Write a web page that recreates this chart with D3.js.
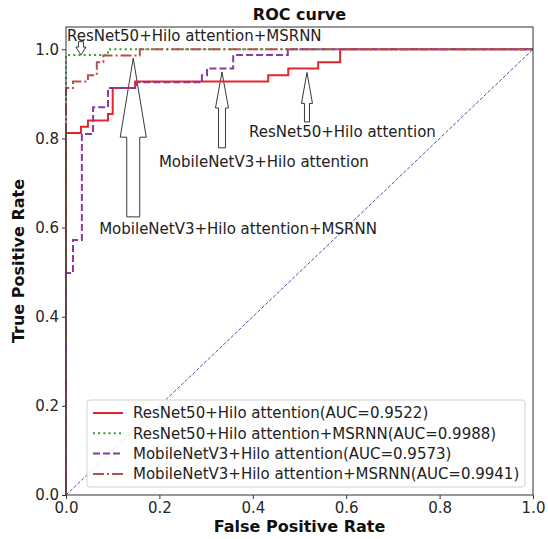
<!DOCTYPE html>
<html><head><meta charset="utf-8">
<script src="https://cdn.jsdelivr.net/npm/d3@7"></script>
<style>
body{margin:0;background:#fff}
text{font-family:"DejaVu Sans",sans-serif}
</style>
</head><body>
<svg id="chart" width="548" height="539"></svg>
<script>
// ---------------- data ----------------
const seriesNames = [
  "ResNet50+Hilo attention",
  "ResNet50+Hilo attention+MSRNN",
  "MobileNetV3+Hilo attention",
  "MobileNetV3+Hilo attention+MSRNN"
];
const aucValues = [0.9522, 0.9988, 0.9573, 0.9941];

const fprResNet = [0, 0, 0.032, 0.032, 0.047, 0.047, 0.09, 0.09, 0.10, 0.10, 0.148, 0.148, 0.433, 0.433, 0.476, 0.476, 0.54, 0.54, 0.587, 0.587, 1];
const tprResNet = [0, 0.812, 0.812, 0.826, 0.826, 0.84, 0.84, 0.855, 0.855, 0.913, 0.913, 0.928, 0.928, 0.942, 0.942, 0.957, 0.957, 0.971, 0.971, 1, 1];

const fprResNetMS = [0, 0, 0.09, 0.09, 1];
const tprResNetMS = [0, 0.987, 0.987, 1, 1];

const fprMobile = [0, 0, 0.015, 0.015, 0.034, 0.034, 0.058, 0.058, 0.09, 0.09, 0.152, 0.152, 0.291, 0.291, 0.302, 0.302, 0.358, 0.358, 0.475, 0.475, 1];
const tprMobile = [0, 0.498, 0.498, 0.572, 0.572, 0.81, 0.81, 0.87, 0.87, 0.913, 0.913, 0.926, 0.926, 0.942, 0.942, 0.957, 0.957, 0.987, 0.987, 1, 1];

const fprMobileMS = [0, 0, 0.015, 0.015, 0.047, 0.047, 0.066, 0.066, 0.08, 0.08, 0.158, 0.158, 1];
const tprMobileMS = [0, 0.913, 0.913, 0.928, 0.928, 0.942, 0.942, 0.971, 0.971, 0.986, 0.986, 1, 1];

const chanceLine = [0, 1];

const xTicks = [0, 0.2, 0.4, 0.6, 0.8, 1.0];
const yTicks = [0, 0.2, 0.4, 0.6, 0.8, 1.0];

const annTexts = [
  "ResNet50+Hilo attention+MSRNN",
  "MobileNetV3+Hilo attention+MSRNN",
  "MobileNetV3+Hilo attention",
  "ResNet50+Hilo attention"
];
// text anchor (left, baseline) in data coords
const annTextX = [0.002, 0.071, 0.199, 0.392];
const annTextY = [1.019, 0.586, 0.735, 0.803];
// arrow tip and tail in data coords
const annTipX  = [0.032, 0.144, 0.334, 0.516];
const annTipY  = [0.987, 0.980, 0.949, 0.948];
const annTailY = [1.017, 0.624, 0.779, 0.837];

// ---------------- style ----------------
const colors = ["#e3262b", "#2ca02c", "#8b3a9e", "#b3514f"];
const dashes = [null, "2,3.2", "7,3", "11,3,2,3"];
const arrowShape = [ // shaft width, head width, head length (px)
  {sw: 5, hw: 10, hl: 8},
  {sw: 13, hw: 26, hl: 79},
  {sw: 7, hw: 13, hl: 36},
  {sw: 5, hw: 11, hl: 31}
];

const svg = d3.select("#chart");
const W = 548, H = 539;
const pLeft = 66, pRight = 533, pTop = 27, pBottom = 495;

const x = d3.scaleLinear().domain([0, 1]).range([pLeft, pRight]);
const y = d3.scaleLinear().domain([0, 1.05]).range([pBottom, pTop]);

svg.append("rect").attr("width", W).attr("height", H).attr("fill", "#fff");

// axes
const gx = svg.append("g").attr("transform", `translate(0,${pBottom})`)
  .call(d3.axisBottom(x).tickValues(xTicks).tickFormat(d3.format(".1f")).tickSize(4).tickPadding(3));
const gy = svg.append("g").attr("transform", `translate(${pLeft},0)`)
  .call(d3.axisLeft(y).tickValues(yTicks).tickFormat(d3.format(".1f")).tickSize(4).tickPadding(3));
[gx, gy].forEach(g => {
  g.select(".domain").remove();
  g.selectAll(".tick line").attr("stroke", "#333");
  g.selectAll(".tick text").attr("fill", "#262626").style("font-size", "15px")
    .style("font-family", "DejaVu Sans, sans-serif");
});

// arrows (drawn beneath curves)
const arrowsG = svg.append("g");
annTexts.forEach((t, i) => {
  const cx = x(annTipX[i]);
  const tipY = y(annTipY[i]);
  const tailY = y(annTailY[i]);
  const s = arrowShape[i];
  const dir = tailY > tipY ? 1 : -1;
  const baseY = tipY + dir * s.hl;
  const pts = [
    [cx, tipY],
    [cx + s.hw / 2, baseY],
    [cx + s.sw / 2, baseY],
    [cx + s.sw / 2, tailY],
    [cx - s.sw / 2, tailY],
    [cx - s.sw / 2, baseY],
    [cx - s.hw / 2, baseY]
  ];
  arrowsG.append("path")
    .attr("d", d3.line()(pts) + "Z")
    .attr("fill", "#fff").attr("stroke", "#222").attr("stroke-width", 0.9)
    .attr("stroke-linejoin", "miter");
});

// chance diagonal
svg.append("path")
  .attr("d", d3.line().x(d => x(d)).y(d => y(d))(chanceLine))
  .attr("fill", "none").attr("stroke", "#3b3ba0").attr("stroke-width", 0.9)
  .attr("stroke-dasharray", "3.5,1.8");

// curves
const seriesFpr = [fprResNet, fprResNetMS, fprMobile, fprMobileMS];
const seriesTpr = [tprResNet, tprResNetMS, tprMobile, tprMobileMS];
const lineGen = d3.line().x(d => x(d[0])).y(d => y(d[1]));
seriesFpr.forEach((f, i) => {
  const pts = f.map((v, j) => [v, seriesTpr[i][j]]);
  const p = svg.append("path")
    .attr("d", lineGen(pts))
    .attr("fill", "none").attr("stroke", colors[i]).attr("stroke-width", 2)
    .attr("stroke-linejoin", "miter");
  if (dashes[i]) p.attr("stroke-dasharray", dashes[i]);
});

// annotation texts
annTexts.forEach((t, i) => {
  svg.append("text")
    .attr("x", x(annTextX[i])).attr("y", y(annTextY[i]))
    .attr("fill", "#222").style("font-size", "15px")
    .text(t);
});

// frame
svg.append("rect").attr("x", pLeft).attr("y", pTop)
  .attr("width", pRight - pLeft).attr("height", pBottom - pTop)
  .attr("fill", "none").attr("stroke", "#333").attr("stroke-width", 1);

// legend
const lg = svg.append("g");
const lgX = 87, lgY = 400, lgW = 438, lgH = 87, rowH = 20.3;
lg.append("rect").attr("x", lgX).attr("y", lgY).attr("width", lgW).attr("height", lgH)
  .attr("rx", 3).attr("fill", "#fff").attr("fill-opacity", 0.85)
  .attr("stroke", "#d0d0d0").attr("stroke-width", 1);
seriesNames.forEach((n, i) => {
  const cy = lgY + 13 + i * rowH;
  const l = lg.append("line").attr("x1", lgX + 6).attr("x2", lgX + 36)
    .attr("y1", cy).attr("y2", cy)
    .attr("stroke", colors[i]).attr("stroke-width", 2);
  if (dashes[i]) l.attr("stroke-dasharray", dashes[i]);
  lg.append("text").attr("x", lgX + 46).attr("y", cy).attr("dy", "0.35em")
    .attr("fill", "#222").style("font-size", "15px")
    .text(`${n}(AUC=${aucValues[i].toFixed(4)})`);
});

// title and axis labels
svg.append("text").attr("x", (pLeft + pRight) / 2).attr("y", 20)
  .attr("text-anchor", "middle").style("font-size", "16px").style("font-weight", "bold")
  .attr("fill", "#111").text("ROC curve");
svg.append("text").attr("x", (pLeft + pRight) / 2).attr("y", 532)
  .attr("text-anchor", "middle").style("font-size", "16px").style("font-weight", "bold")
  .attr("fill", "#111").text("False Positive Rate");
svg.append("text")
  .attr("transform", `translate(24,${(pTop + pBottom) / 2}) rotate(-90)`)
  .attr("text-anchor", "middle").style("font-size", "16px").style("font-weight", "bold")
  .attr("fill", "#111").text("True Positive Rate");
</script>
</body></html>
